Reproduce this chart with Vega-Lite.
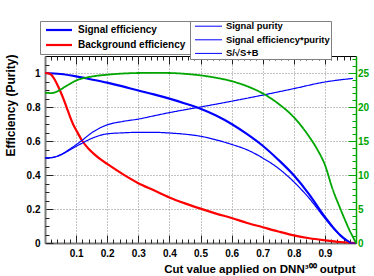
{
  "$schema": "https://vega.github.io/schema/vega-lite/v6.json",
  "width": 311,
  "height": 187,
  "autosize": "none",
  "padding": {"left": 45, "top": 56, "right": 18, "bottom": 33},
  "background": "white",
  "config": {
    "view": {"stroke": "#000000", "strokeWidth": 1},
    "font": "Liberation Sans",
    "axis": {"labelFont": "Liberation Sans", "labelFontWeight": "bold", "titleFont": "Liberation Sans", "titleFontWeight": "bold", "labelOverlap": false, "labelFlush": false, "tickColor": "#222222", "tickWidth": 1},
    "legend": {"labelFont": "Liberation Sans", "labelFontWeight": "bold", "labelLimit": 400}
  },
  "datasets": {
    "curves": [
      {"s": "Signal efficiency", "x": 0, "y": 1.0},
      {"s": "Signal efficiency", "x": 0.05, "y": 0.994},
      {"s": "Signal efficiency", "x": 0.1, "y": 0.98},
      {"s": "Signal efficiency", "x": 0.15, "y": 0.962},
      {"s": "Signal efficiency", "x": 0.2, "y": 0.943},
      {"s": "Signal efficiency", "x": 0.25, "y": 0.921},
      {"s": "Signal efficiency", "x": 0.3, "y": 0.897},
      {"s": "Signal efficiency", "x": 0.35, "y": 0.874},
      {"s": "Signal efficiency", "x": 0.4, "y": 0.849},
      {"s": "Signal efficiency", "x": 0.45, "y": 0.821},
      {"s": "Signal efficiency", "x": 0.5, "y": 0.79},
      {"s": "Signal efficiency", "x": 0.55, "y": 0.75},
      {"s": "Signal efficiency", "x": 0.6, "y": 0.70},
      {"s": "Signal efficiency", "x": 0.65, "y": 0.64},
      {"s": "Signal efficiency", "x": 0.7, "y": 0.572},
      {"s": "Signal efficiency", "x": 0.75, "y": 0.49},
      {"s": "Signal efficiency", "x": 0.8, "y": 0.398},
      {"s": "Signal efficiency", "x": 0.85, "y": 0.285},
      {"s": "Signal efficiency", "x": 0.9, "y": 0.153},
      {"s": "Signal efficiency", "x": 0.925, "y": 0.095},
      {"s": "Signal efficiency", "x": 0.95, "y": 0.045},
      {"s": "Signal efficiency", "x": 0.97, "y": 0.015},
      {"s": "Signal efficiency", "x": 0.985, "y": 0.0},
      {"s": "Signal efficiency", "x": 1.0, "y": 0.0},
      {"s": "Background efficiency", "x": 0, "y": 1.0},
      {"s": "Background efficiency", "x": 0.01, "y": 0.998},
      {"s": "Background efficiency", "x": 0.02, "y": 0.99},
      {"s": "Background efficiency", "x": 0.03, "y": 0.965},
      {"s": "Background efficiency", "x": 0.04, "y": 0.93},
      {"s": "Background efficiency", "x": 0.05, "y": 0.89},
      {"s": "Background efficiency", "x": 0.06, "y": 0.845},
      {"s": "Background efficiency", "x": 0.07, "y": 0.795},
      {"s": "Background efficiency", "x": 0.08, "y": 0.745},
      {"s": "Background efficiency", "x": 0.09, "y": 0.70},
      {"s": "Background efficiency", "x": 0.1, "y": 0.665},
      {"s": "Background efficiency", "x": 0.12, "y": 0.60},
      {"s": "Background efficiency", "x": 0.14, "y": 0.555},
      {"s": "Background efficiency", "x": 0.16, "y": 0.52},
      {"s": "Background efficiency", "x": 0.18, "y": 0.49},
      {"s": "Background efficiency", "x": 0.2, "y": 0.465},
      {"s": "Background efficiency", "x": 0.25, "y": 0.405},
      {"s": "Background efficiency", "x": 0.3, "y": 0.352},
      {"s": "Background efficiency", "x": 0.35, "y": 0.31},
      {"s": "Background efficiency", "x": 0.4, "y": 0.268},
      {"s": "Background efficiency", "x": 0.45, "y": 0.233},
      {"s": "Background efficiency", "x": 0.5, "y": 0.202},
      {"s": "Background efficiency", "x": 0.55, "y": 0.173},
      {"s": "Background efficiency", "x": 0.6, "y": 0.147},
      {"s": "Background efficiency", "x": 0.65, "y": 0.118},
      {"s": "Background efficiency", "x": 0.7, "y": 0.093},
      {"s": "Background efficiency", "x": 0.75, "y": 0.068},
      {"s": "Background efficiency", "x": 0.8, "y": 0.045},
      {"s": "Background efficiency", "x": 0.85, "y": 0.028},
      {"s": "Background efficiency", "x": 0.9, "y": 0.016},
      {"s": "Background efficiency", "x": 0.95, "y": 0.006},
      {"s": "Background efficiency", "x": 1.0, "y": 0.0},
      {"s": "Signal purity", "x": 0, "y": 0.5},
      {"s": "Signal purity", "x": 0.02, "y": 0.502},
      {"s": "Signal purity", "x": 0.04, "y": 0.512},
      {"s": "Signal purity", "x": 0.06, "y": 0.53},
      {"s": "Signal purity", "x": 0.08, "y": 0.553},
      {"s": "Signal purity", "x": 0.1, "y": 0.578},
      {"s": "Signal purity", "x": 0.12, "y": 0.605},
      {"s": "Signal purity", "x": 0.15, "y": 0.648},
      {"s": "Signal purity", "x": 0.2, "y": 0.695},
      {"s": "Signal purity", "x": 0.25, "y": 0.715},
      {"s": "Signal purity", "x": 0.3, "y": 0.729},
      {"s": "Signal purity", "x": 0.35, "y": 0.748},
      {"s": "Signal purity", "x": 0.4, "y": 0.767},
      {"s": "Signal purity", "x": 0.5, "y": 0.80},
      {"s": "Signal purity", "x": 0.6, "y": 0.834},
      {"s": "Signal purity", "x": 0.7, "y": 0.87},
      {"s": "Signal purity", "x": 0.8, "y": 0.908},
      {"s": "Signal purity", "x": 0.9, "y": 0.947},
      {"s": "Signal purity", "x": 0.95, "y": 0.96},
      {"s": "Signal purity", "x": 0.99, "y": 0.968},
      {"s": "Signal efficiency*purity", "x": 0, "y": 0.5},
      {"s": "Signal efficiency*purity", "x": 0.02, "y": 0.502},
      {"s": "Signal efficiency*purity", "x": 0.04, "y": 0.51},
      {"s": "Signal efficiency*purity", "x": 0.06, "y": 0.526},
      {"s": "Signal efficiency*purity", "x": 0.08, "y": 0.547},
      {"s": "Signal efficiency*purity", "x": 0.1, "y": 0.568},
      {"s": "Signal efficiency*purity", "x": 0.12, "y": 0.588},
      {"s": "Signal efficiency*purity", "x": 0.15, "y": 0.615},
      {"s": "Signal efficiency*purity", "x": 0.2, "y": 0.642},
      {"s": "Signal efficiency*purity", "x": 0.25, "y": 0.648},
      {"s": "Signal efficiency*purity", "x": 0.3, "y": 0.651},
      {"s": "Signal efficiency*purity", "x": 0.35, "y": 0.651},
      {"s": "Signal efficiency*purity", "x": 0.4, "y": 0.647},
      {"s": "Signal efficiency*purity", "x": 0.45, "y": 0.64},
      {"s": "Signal efficiency*purity", "x": 0.5, "y": 0.628},
      {"s": "Signal efficiency*purity", "x": 0.55, "y": 0.607},
      {"s": "Signal efficiency*purity", "x": 0.6, "y": 0.58},
      {"s": "Signal efficiency*purity", "x": 0.65, "y": 0.548},
      {"s": "Signal efficiency*purity", "x": 0.7, "y": 0.50},
      {"s": "Signal efficiency*purity", "x": 0.75, "y": 0.44},
      {"s": "Signal efficiency*purity", "x": 0.8, "y": 0.36},
      {"s": "Signal efficiency*purity", "x": 0.85, "y": 0.262},
      {"s": "Signal efficiency*purity", "x": 0.9, "y": 0.145},
      {"s": "Signal efficiency*purity", "x": 0.925, "y": 0.09},
      {"s": "Signal efficiency*purity", "x": 0.95, "y": 0.044},
      {"s": "Signal efficiency*purity", "x": 0.97, "y": 0.015},
      {"s": "Signal efficiency*purity", "x": 0.985, "y": 0.0},
      {"s": "Signal efficiency*purity", "x": 1.0, "y": 0.0},
      {"s": "S/√S+B", "x": 0, "y": 22.1},
      {"s": "S/√S+B", "x": 0.02, "y": 22.05},
      {"s": "S/√S+B", "x": 0.04, "y": 22.3},
      {"s": "S/√S+B", "x": 0.06, "y": 22.85},
      {"s": "S/√S+B", "x": 0.08, "y": 23.4},
      {"s": "S/√S+B", "x": 0.1, "y": 23.9},
      {"s": "S/√S+B", "x": 0.13, "y": 24.3},
      {"s": "S/√S+B", "x": 0.16, "y": 24.55},
      {"s": "S/√S+B", "x": 0.2, "y": 24.75},
      {"s": "S/√S+B", "x": 0.25, "y": 24.92},
      {"s": "S/√S+B", "x": 0.3, "y": 25.0},
      {"s": "S/√S+B", "x": 0.35, "y": 25.02},
      {"s": "S/√S+B", "x": 0.4, "y": 25.0},
      {"s": "S/√S+B", "x": 0.45, "y": 24.88},
      {"s": "S/√S+B", "x": 0.5, "y": 24.65},
      {"s": "S/√S+B", "x": 0.55, "y": 24.3},
      {"s": "S/√S+B", "x": 0.6, "y": 23.8},
      {"s": "S/√S+B", "x": 0.65, "y": 23.05},
      {"s": "S/√S+B", "x": 0.7, "y": 22.0},
      {"s": "S/√S+B", "x": 0.75, "y": 20.5},
      {"s": "S/√S+B", "x": 0.8, "y": 18.5},
      {"s": "S/√S+B", "x": 0.85, "y": 15.6},
      {"s": "S/√S+B", "x": 0.875, "y": 13.8},
      {"s": "S/√S+B", "x": 0.9, "y": 11.5},
      {"s": "S/√S+B", "x": 0.925, "y": 7.9},
      {"s": "S/√S+B", "x": 0.95, "y": 5.0},
      {"s": "S/√S+B", "x": 0.965, "y": 3.35},
      {"s": "S/√S+B", "x": 0.98, "y": 1.8},
      {"s": "S/√S+B", "x": 0.99, "y": 0.9},
      {"s": "S/√S+B", "x": 1.0, "y": 0.0}
    ]
  },
  "data": {"name": "curves"},
  "layer": [
    {
      "transform": [{"filter": "datum.s === 'Signal efficiency' || datum.s === 'Background efficiency'"}],
      "mark": {"type": "line", "strokeWidth": 2.2, "interpolate": "monotone"},
      "encoding": {
        "x": {
          "field": "x", "type": "quantitative",
          "scale": {"domain": [0, 1], "nice": false, "zero": false},
          "axis": {
            "orient": "bottom",
            "values": [0.1, 0.2, 0.3, 0.4, 0.5, 0.6, 0.7, 0.8, 0.9],
            "format": ".1f",
            "tickSize": -8,
            "labelFontSize": 10,
            "labelColor": "#000000",
            "labelPadding": 13,
            "labelOverlap": false,
            "grid": true,
            "gridColor": "#8a8a8a",
            "gridDash": [1, 2],
            "gridWidth": 1,
            "domainColor": "#7a7a7a",
            "domainWidth": 2,
            "title": "Cut value applied on DNN³⁰⁰ output",
            "titleFontSize": 11.5,
            "titleColor": "#000000",
            "titleAlign": "right",
            "titleAnchor": "end",
            "titleBaseline": "alphabetic",
            "titleX": 310,
            "titleY": 29
          }
        },
        "y": {
          "field": "y", "type": "quantitative",
          "scale": {"domain": [0, 1.1], "nice": false, "zero": false},
          "axis": {
            "orient": "left",
            "values": [0, 0.2, 0.4, 0.6, 0.8, 1],
            "format": "~g",
            "tickSize": -8,
            "labelFontSize": 10,
            "labelColor": "#000000",
            "labelPadding": 13,
            "labelOverlap": false,
            "grid": true,
            "gridColor": "#8a8a8a",
            "gridDash": [1, 2],
            "gridWidth": 1,
            "domainColor": "#7a7a7a",
            "domainWidth": 2,
            "title": "Efficiency (Purity)",
            "titleFontSize": 12,
            "titleColor": "#000000",
            "titleAngle": 270,
            "titleAlign": "right",
            "titleBaseline": "middle",
            "titleX": -35,
            "titleY": -2
          }
        },
        "color": {
          "field": "s", "type": "nominal",
          "scale": {"domain": ["Signal efficiency", "Background efficiency"], "range": ["#0000ff", "#ff0000"]},
          "legend": {
            "orient": "none",
            "legendX": -5,
            "legendY": -35,
            "title": null,
            "padding": 4,
            "symbolType": "M-1.5,0H11.5",
            "symbolSize": 16,
            "symbolStrokeWidth": 2.2,
            "symbolOffset": 0,
            "labelOffset": 24,
            "labelFontSize": 10,
            "labelColor": "#000000",
            "rowPadding": 5,
            "strokeColor": "#808080",
            "fillColor": "#ffffff"
          }
        }
      }
    },
    {
      "transform": [{"filter": "datum.s === 'Signal purity' || datum.s === 'Signal efficiency*purity'"}],
      "mark": {"type": "line", "strokeWidth": 1.2, "color": "#0000ff", "interpolate": "monotone"},
      "encoding": {
        "x": {
          "field": "x", "type": "quantitative",
          "scale": {"domain": [0, 1], "nice": false, "zero": false},
          "axis": {
            "orient": "bottom",
            "values": [0.02,0.04,0.06,0.08,0.12,0.14,0.16,0.18,0.22,0.24,0.26,0.28,0.32,0.34,0.36,0.38,0.42,0.44,0.46,0.48,0.52,0.54,0.56,0.58,0.62,0.64,0.66,0.68,0.72,0.74,0.76,0.78,0.82,0.84,0.86,0.88,0.92,0.94,0.96,0.98],
            "tickSize": -4,
            "labels": false,
            "domain": false,
            "grid": false,
            "title": null
          }
        },
        "y": {
          "field": "y", "type": "quantitative",
          "scale": {"domain": [0, 1.1], "nice": false, "zero": false},
          "axis": {
            "orient": "left",
            "values": [0.05,0.1,0.15,0.25,0.3,0.35,0.45,0.5,0.55,0.65,0.7,0.75,0.85,0.9,0.95,1.05],
            "tickSize": -4,
            "labels": false,
            "domain": false,
            "grid": false,
            "title": null
          }
        },
        "strokeDash": {
          "field": "s", "type": "nominal",
          "scale": {"domain": ["Signal purity", "Signal efficiency*purity", "S/√S+B"], "range": [[1, 0], [1, 0], [1, 0]]},
          "legend": {
            "orient": "none",
            "legendX": 145,
            "legendY": -35,
            "title": null,
            "padding": 0.5,
            "symbolType": "M-0.1,0H13.4",
            "symbolSize": 16,
            "symbolStrokeWidth": 1,
            "symbolOffset": 0,
            "labelOffset": 26.1,
            "labelFontSize": 9.4,
            "labelColor": "#000000",
            "rowPadding": 2.6,
            "strokeColor": "#808080",
            "fillColor": "#ffffff",
            "encode": {
              "symbols": {
                "stroke": {"condition": {"test": "datum.value === 'S/√S+B'", "value": "#000000"}, "value": "#0000ff"},
                "strokeDash": {"condition": [{"test": "datum.value === 'Signal purity'", "value": [6, 2.5]}, {"test": "datum.value === 'Signal efficiency*purity'", "value": [3, 2]}], "value": [1, 0]}
              }
            }
          }
        }
      }
    },
    {
      "transform": [{"filter": "datum.s === 'S/√S+B'"}],
      "mark": {"type": "line", "strokeWidth": 1.8, "color": "#00a600", "interpolate": "monotone"},
      "encoding": {
        "x": {
          "field": "x", "type": "quantitative",
          "scale": {"domain": [0, 1], "nice": false, "zero": false},
          "axis": {
            "orient": "top",
            "values": [0.1, 0.2, 0.3, 0.4, 0.5, 0.6, 0.7, 0.8, 0.9],
            "tickSize": -8,
            "labels": false,
            "domain": false,
            "grid": false,
            "title": null
          }
        },
        "y": {
          "field": "y", "type": "quantitative",
          "scale": {"domain": [0, 27.5], "nice": false, "zero": false},
          "axis": {
            "orient": "right",
            "values": [0, 5, 10, 15, 20, 25],
            "tickSize": -8,
            "tickColor": "#00a600",
            "labelFontSize": 10,
            "labelColor": "#00a600",
            "labelPadding": 9.5,
            "labelOverlap": false,
            "grid": false,
            "domainColor": "#00a600",
            "domainWidth": 1.5,
            "title": null
          }
        },
        "strokeDash": {"field": "s", "type": "nominal"}
      }
    },
    {
      "transform": [{"filter": "datum.s === 'S/√S+B'"}],
      "mark": {"type": "line", "strokeWidth": 1, "color": "#00a600", "opacity": 0, "interpolate": "monotone"},
      "encoding": {
        "x": {
          "field": "x", "type": "quantitative",
          "scale": {"domain": [0, 1], "nice": false, "zero": false},
          "axis": {
            "orient": "top",
            "values": [0.02,0.04,0.06,0.08,0.12,0.14,0.16,0.18,0.22,0.24,0.26,0.28,0.32,0.34,0.36,0.38,0.42,0.44,0.46,0.48,0.52,0.54,0.56,0.58,0.62,0.64,0.66,0.68,0.72,0.74,0.76,0.78,0.82,0.84,0.86,0.88,0.92,0.94,0.96,0.98],
            "tickSize": -4,
            "labels": false,
            "domain": false,
            "grid": false,
            "title": null
          }
        },
        "y": {
          "field": "y", "type": "quantitative",
          "scale": {"domain": [0, 27.5], "nice": false, "zero": false},
          "axis": {
            "orient": "right",
            "values": [1,2,3,4,6,7,8,9,11,12,13,14,16,17,18,19,21,22,23,24,26,27],
            "tickSize": -4,
            "tickColor": "#00a600",
            "labels": false,
            "domain": false,
            "grid": false,
            "title": null
          }
        }
      }
    }
  ],
  "resolve": {"scale": {"y": "independent"}, "axis": {"x": "independent", "y": "independent"}}
}
